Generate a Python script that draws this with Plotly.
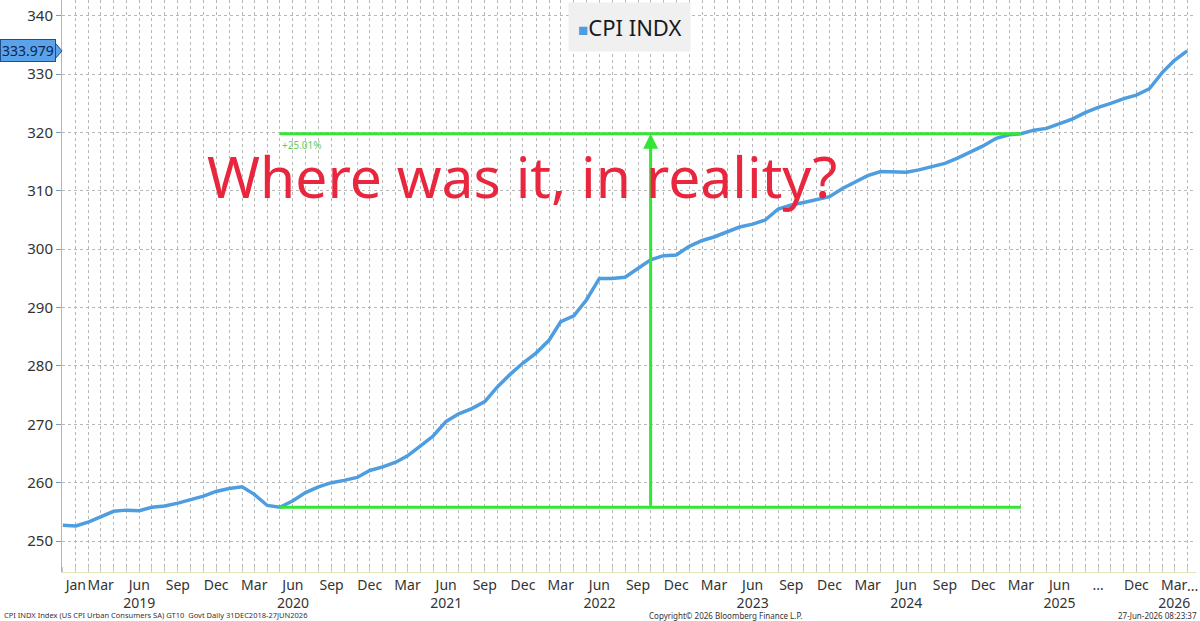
import plotly.graph_objects as go

# monthly CPI index, Dec 2018 .. Apr 2026
months = ["2018-12", "2019-01", "2019-02", "2019-03", "2019-04", "2019-05", "2019-06",
          "2019-07", "2019-08", "2019-09", "2019-10", "2019-11", "2019-12",
          "2020-01", "2020-02", "2020-03", "2020-04", "2020-05", "2020-06",
          "2020-07", "2020-08", "2020-09", "2020-10", "2020-11", "2020-12",
          "2021-01", "2021-02", "2021-03", "2021-04", "2021-05", "2021-06",
          "2021-07", "2021-08", "2021-09", "2021-10", "2021-11", "2021-12",
          "2022-01", "2022-02", "2022-03", "2022-04", "2022-05", "2022-06",
          "2022-07", "2022-08", "2022-09", "2022-10", "2022-11", "2022-12",
          "2023-01", "2023-02", "2023-03", "2023-04", "2023-05", "2023-06",
          "2023-07", "2023-08", "2023-09", "2023-10", "2023-11", "2023-12",
          "2024-01", "2024-02", "2024-03", "2024-04", "2024-05", "2024-06",
          "2024-07", "2024-08", "2024-09", "2024-10", "2024-11", "2024-12",
          "2025-01", "2025-02", "2025-03", "2025-04", "2025-05", "2025-06",
          "2025-07", "2025-08", "2025-09", "2025-10", "2025-11", "2025-12",
          "2026-01", "2026-02", "2026-03", "2026-04"]
cpi = [252.7, 252.6, 253.3, 254.2, 255.1, 255.3, 255.2,
       255.8, 256.0, 256.5, 257.1, 257.7, 258.5,
       259.0, 259.3, 258.0, 256.1, 255.8, 256.9,
       258.3, 259.3, 260.0, 260.4, 260.9, 262.1,
       262.7, 263.5, 264.6, 266.3, 268.0, 270.5,
       271.8, 272.7, 273.9, 276.4, 278.6, 280.5,
       282.2, 284.4, 287.6, 288.6, 291.3, 295.0,
       295.0, 295.2, 296.7, 298.2, 298.9, 299.0,
       300.5, 301.5, 302.1, 303.0, 303.8, 304.3,
       305.0, 306.9, 307.6, 308.0, 308.5, 309.0,
       310.4, 311.6, 312.6, 313.3, 313.3, 313.2,
       313.6, 314.2, 314.7, 315.6, 316.6, 317.7,
       319.0, 319.6, 319.8, 320.4, 320.7, 321.5,
       322.3, 323.4, 324.3, 325.0, 325.8, 326.4,
       327.5, 330.3, 332.3, 333.979]

tick_months = ["2019-01", "2019-03", "2019-06", "2019-09", "2019-12", "2020-03", "2020-06",
               "2020-09", "2020-12", "2021-03", "2021-06", "2021-09", "2021-12", "2022-03",
               "2022-06", "2022-09", "2022-12", "2023-03", "2023-06", "2023-09", "2023-12",
               "2024-03", "2024-06", "2024-09", "2024-12", "2025-03", "2025-06", "2025-09",
               "2025-12", "2026-03"]
tick_labels = ["Jan", "Mar", "Jun<br>2019", "Sep", "Dec", "Mar", "Jun<br>2020",
               "Sep", "Dec", "Mar", "Jun<br>2021", "Sep", "Dec", "Mar",
               "Jun<br>2022", "Sep", "Dec", "Mar", "Jun<br>2023", "Sep", "Dec",
               "Mar", "Jun<br>2024", "Sep", "Dec", "Mar", "Jun<br>2025", "...",
               "Dec", "Mar<br>2026"]
y_ticks = [250, 260, 270, 280, 290, 300, 310, 320, 330, 340]

# the % change study: trough May 2020 -> Mar 2025
i_start = months.index("2020-05")
i_end = months.index("2025-03")
i_mid = (i_start + i_end) // 2

dates = [m + "-01" for m in months]
GREEN = "#33e633"
BLUE = "#4d9de0"
GRID = "#b8b8b8"
FONT = "Noto Sans"

fig = go.Figure()
fig.add_trace(go.Scatter(x=dates, y=cpi, mode="lines", name="CPI INDX",
                         line=dict(color=BLUE, width=3.5), showlegend=False))

# green study lines
fig.add_shape(type="line", x0=dates[i_start], x1=dates[i_end], y0=cpi[i_end], y1=cpi[i_end],
              line=dict(color=GREEN, width=3))
fig.add_shape(type="line", x0=dates[i_start], x1=dates[i_end], y0=cpi[i_start], y1=cpi[i_start],
              line=dict(color=GREEN, width=3))
fig.add_annotation(x=dates[i_mid], y=cpi[i_end], ax=dates[i_mid], ay=cpi[i_start],
                   xref="x", yref="y", axref="x", ayref="y", text="", showarrow=True,
                   arrowhead=2, arrowsize=1, arrowwidth=3, arrowcolor=GREEN)
fig.add_annotation(x=dates[i_start], y=cpi[i_end], text="+25.01%", showarrow=False,
                   xanchor="left", yanchor="top", xshift=0, yshift=-2,
                   font=dict(family=FONT, size=10, color="#5fd05f"))

# big red question
fig.add_annotation(xref="paper", yref="paper", x=0.126, y=0.693, xanchor="left", yanchor="middle",
                   text="Where was it, in reality?", showarrow=False,
                   font=dict(family=FONT, size=57, color="#e8263e"))

# legend box
fig.add_annotation(xref="paper", yref="paper", x=0.5, y=0.953, xanchor="center", yanchor="middle",
                   text="<span style='color:%s;font-size:17px'>■</span>CPI INDX" % BLUE,
                   showarrow=False, bgcolor="#f0f0f0", borderpad=9,
                   font=dict(family=FONT, size=22, color="#1a1a1a"))

# last value tag on the y axis
last = cpi[-1]
fig.add_annotation(xref="paper", yref="y", x=0, y=last, xanchor="right", xshift=-6,
                   text="%.3f" % last, showarrow=False, bgcolor="#5aa2ea",
                   bordercolor="#1d4f8f", borderwidth=1, borderpad=1,
                   font=dict(family=FONT, size=14, color="#0b2550"))
fig.add_shape(type="path", xref="paper", yref="y",
              path="M %f %f L %f %f L %f %f Z" % (-6.5 / 1134, last + 1.3, 0, last,
                                                -6.5 / 1134, last - 1.3),
              fillcolor="#5aa2ea", line=dict(color="#1d4f8f", width=1))

# footer
footer = [(0, "left", 7.5, "CPI INDX Index (US CPI Urban Consumers SA) GT10  Govt Daily 31DEC2018-27JUN2026"),
          (0.516, "left", 8, "Copyright© 2026 Bloomberg Finance L.P."),
          (1.003, "right", 8, "27-Jun-2026 08:23:37")]
for fx, anchor, fsize, txt in footer:
    fig.add_annotation(xref="paper", yref="paper", x=fx, y=-0.0755, xanchor=anchor,
                       yanchor="middle", xshift=-60 if fx == 0 else 0, text=txt,
                       showarrow=False, font=dict(family=FONT, size=fsize, color="#333333"))
# truncation dots after the last month label
fig.add_annotation(xref="x", yref="paper", x="2026-04-14", y=-0.004, yanchor="top",
                   text="...", showarrow=False, font=dict(family=FONT, size=14, color="#333333"))

fig.update_xaxes(type="date", range=["2018-11-29", "2026-04-22"],
                 tickvals=[m + "-01" for m in tick_months], ticktext=tick_labels,
                 tickangle=0,
                 tickfont=dict(family=FONT, size=14, color="#333333"),
                 showgrid=True, gridcolor=GRID, griddash="dot", gridwidth=1,
                 minor=dict(dtick="M1", tick0="2019-01-01", showgrid=True, gridcolor=GRID,
                            griddash="dot", ticks="inside", ticklen=5, tickcolor="#c8c8c8"),
                 ticks="", showline=True, linecolor="#dfe8b8", linewidth=1, zeroline=False)
fig.update_yaxes(range=[244.7, 342.7], tickvals=y_ticks,
                 tickfont=dict(family=FONT, size=15, color="#333333"),
                 showgrid=True, gridcolor=GRID, griddash="dot", gridwidth=1,
                 ticks="outside", ticklen=5, tickcolor="#7a9cc0",
                 showline=True, linecolor="#9dbbd8", linewidth=1, zeroline=False)

fig.update_layout(width=1200, height=621, margin=dict(l=62, r=4, t=0, b=49),
                  plot_bgcolor="white", paper_bgcolor="white", showlegend=False,
                  font=dict(family=FONT))

# drop the default 8px page margin so the figure sits at the window corner
fig.write_html("out.html", config={"displayModeBar": False},
               post_script="document.body.style.margin='0px';")
